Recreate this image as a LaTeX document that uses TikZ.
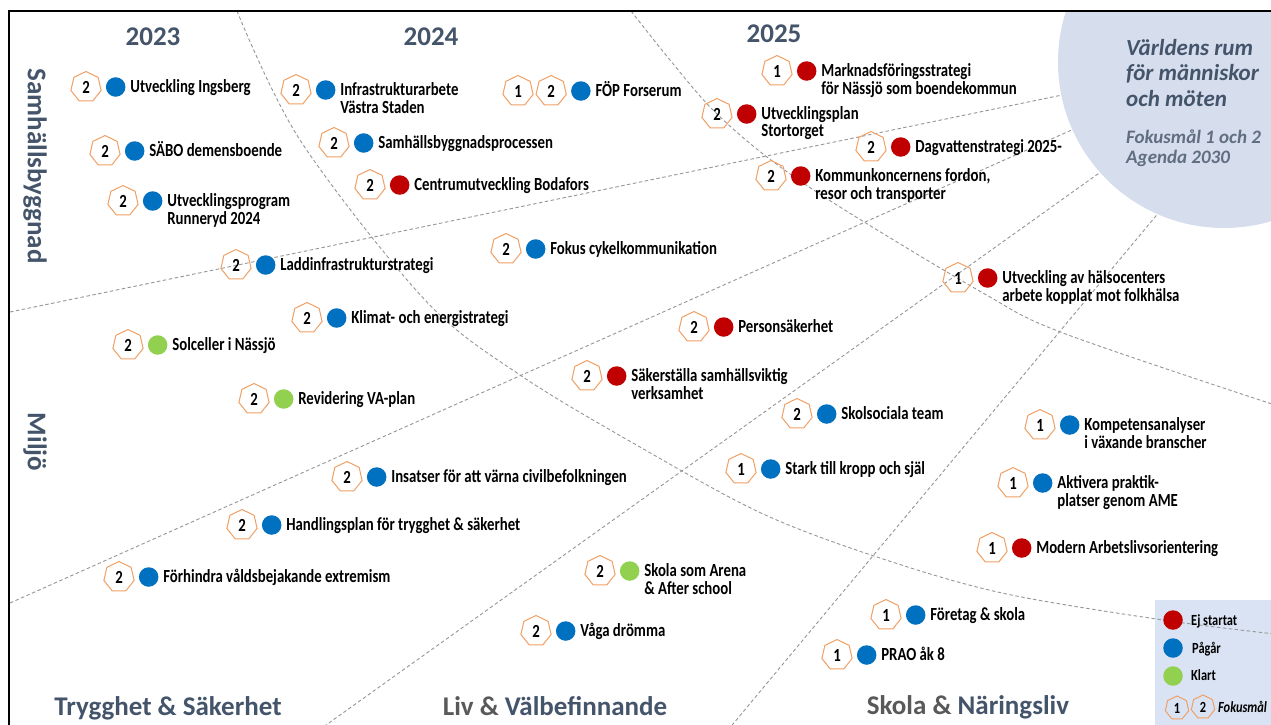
\documentclass[tikz,border=0pt]{standalone}
\usepackage{fontspec}
\setmainfont{Carlito}
\newfontfamily\smalfont{Carlito}[FakeStretch=0.8]
\usetikzlibrary{positioning,shapes.geometric}

\definecolor{ejstart}{RGB}{192,0,0}
\definecolor{pagar}{RGB}{0,112,192}
\definecolor{klart}{RGB}{146,208,80}
\definecolor{hexline}{RGB}{240,160,100}
\definecolor{slate}{RGB}{68,84,106}
\definecolor{mgray}{RGB}{89,89,89}
\definecolor{rumblue}{RGB}{214,222,238}
\definecolor{legblue}{RGB}{218,227,243}
\definecolor{dashgray}{RGB}{150,150,150}

\begin{document}
\begin{tikzpicture}[x=1pt,y=-1pt,
    hept/.style={draw=hexline, line width=1pt, regular polygon, regular polygon sides=7,
      minimum size=31pt, inner sep=0pt, font=\smalfont\bfseries\fontsize{18.5}{16}\selectfont},
    dot/.style={circle, minimum size=19.5pt, inner sep=0pt},
    lbl/.style={inner sep=0pt, font=\smalfont\bfseries\fontsize{18.5}{16}\selectfont},
    sektor/.style={dashgray, line width=0.9pt, dash pattern=on 3.5pt off 2.5pt},
    rubrik/.style={inner sep=0pt, text=slate, font=\bfseries\fontsize{27}{30}\selectfont},
    legtext/.style={inner sep=0pt, font=\smalfont\bfseries\fontsize{15.5}{16}\selectfont}]
		\path[use as bounding box, fill=white] (0,0) rectangle (1271,724);
		% sectors and the centre circle
		\begin{scope}
			\clip (9,11) rectangle (1271,724);
			\fill[legblue] (1155,600) rectangle (1280,730);
			\draw[sektor] (10,312)--(1130,81);
			\draw[sektor] (10,603)--(1130,104);
			\draw[sektor] (319,730)--(1130,151);
			\draw[sektor] (728,730)--(1200,163);
			\fill[rumblue] (1224,62) circle (166);
		\end{scope}
		\draw[sektor] plot[smooth, tension=0.55] coordinates {(237,11) (300,140) (425,300) (520,375) (640,447) (761,513) (877,557) (1002,593) (1163,620) (1275,634)};
		\draw[sektor] plot[smooth, tension=0.55] coordinates {(631,11) (670,60) (713,110) (767,157) (840,207) (983,293) (1063,333) (1275,405)};
		% goals
		\foreach \x/\y/\nr/\fg/\txt [count=\i] in {
			86/87/2/pagar/{Utveckling Ingsberg},
			105/151/2/pagar/{SÄBO demensboende},
			123/201/2/pagar/{Utvecklingsprogram\\Runneryd 2024},
			236/265/2/pagar/{Laddinfrastrukturstrategi},
			296/90/2/pagar/{Infrastrukturarbete\\Västra Staden},
			334/143/2/pagar/{Samhällsbyggnadsprocessen},
			370/185/2/ejstart/{Centrumutveckling Bodafors},
			506/249/2/pagar/{Fokus cykelkommunikation},
			777/71/1/ejstart/{Marknadsföringsstrategi\\för Nässjö som boendekommun},
			717/114/2/ejstart/{Utvecklingsplan\\Stortorget},
			871/147/2/ejstart/{Dagvattenstrategi 2025-},
			771/176/2/ejstart/{Kommunkoncernens fordon,\\resor och transporter},
			958/278/1/ejstart/{Utveckling av hälsocenters\\arbete kopplat mot folkhälsa},
			307/318/2/pagar/{Klimat- och energistrategi},
			128/345/2/klart/{Solceller i Nässjö},
			254/399/2/klart/{Revidering VA-plan},
			347/477/2/pagar/{Insatser för att värna civilbefolkningen},
			242/525/2/pagar/{Handlingsplan för trygghet \& säkerhet},
			119/577/2/pagar/{Förhindra våldsbejakande extremism},
			694/327/2/ejstart/{Personsäkerhet},
			587/376/2/ejstart/{Säkerställa samhällsviktig\\verksamhet},
			797/414/2/pagar/{Skolsociala team},
			741/469/1/pagar/{Stark till kropp och själ},
			600/571/2/klart/{Skola som Arena\\\& After school},
			536/631/2/pagar/{Våga drömma},
			1040/425/1/pagar/{Kompetensanalyser\\i växande branscher},
			1013/483/1/pagar/{Aktivera praktik-\\platser genom AME},
			992/548/1/ejstart/{Modern Arbetslivsorientering},
			886/615/1/pagar/{Företag \& skola},
			837/655/1/pagar/{PRAO åk 8}}
		{
			\node[hept] (h\i) at (\x,\y) {\nr};
			\node[dot, fill=\fg, right=4.9pt of h\i] (d\i) {};
			\node[lbl, anchor=base west] (t\i) at ([xshift=4.5pt,yshift=-5.5pt]d\i.east)
				{\begin{tabular}[t]{@{}l@{}}\txt\end{tabular}};
		}
		\node[hept] (fop1) at (518,91) {1};
		\node[hept, right=3.5pt of fop1] (fop2) {2};
		\node[dot, fill=pagar, right=4.9pt of fop2] (fopd) {};
		\node[lbl, anchor=base west] (fopt) at ([xshift=4.5pt,yshift=-5.5pt]fopd.east) {FÖP Forserum};
		% headings
		\node[rubrik, anchor=base] (ar23) at (153,45) {2023};
		\node[rubrik, anchor=base] (ar24) at (431,45) {2024};
		\node[rubrik, anchor=base] (ar25) at (774,42) {2025};
		\node[rubrik, rotate=-90] (samh) at (35,166) {Samhällsbyggnad};
		\node[rubrik, rotate=-90] (miljo) at (35,442) {Miljö};
		\node[rubrik, anchor=base] (tryg) at (168,715) {Trygghet \& Säkerhet};
		\node[rubrik, anchor=base] (liv) at (555,715) {\textcolor{mgray}{Liv \&} Välbefinnande};
		\node[rubrik, anchor=base] (skola) at (968,714) {\textcolor{mgray}{Skola \&} Näringsliv};
		% centre circle text
		\node[anchor=base west, inner sep=0pt, text=slate, font=\bfseries\itshape\fontsize{23}{25.5}\selectfont] (rum) at (1126,55)
			{\begin{tabular}[t]{@{}l@{}}Världens rum\\för människor\\och möten\end{tabular}};
		\node[anchor=base west, inner sep=0pt, text=slate!85!white, font=\bfseries\itshape\fontsize{19}{20}\selectfont] (agenda) at (1126,143)
			{\begin{tabular}[t]{@{}l@{}}Fokusmål 1 och 2\\Agenda 2030\end{tabular}};
		% legend
		\node[dot, fill=ejstart] (lr) at (1173,620) {};
		\node[dot, fill=pagar] (lb) at (1173,648) {};
		\node[dot, fill=klart] (lg) at (1173,676) {};
		\node[legtext, anchor=base west] (lrt) at (1191,625) {Ej startat};
		\node[legtext, anchor=base west] (lbt) at (1192,653) {Pågår};
		\node[legtext, anchor=base west] (lgt) at (1191,680) {Klart};
		\node[hept, minimum size=24pt, font=\smalfont\bfseries\fontsize{15.5}{16}\selectfont] (lh1) at (1177,708) {1};
		\node[hept, minimum size=24pt, font=\smalfont\bfseries\fontsize{15.5}{16}\selectfont] (lh2) at (1203,707) {2};
		\node[legtext, anchor=base west, font=\smalfont\bfseries\itshape\fontsize{15.5}{16}\selectfont] (lht) at (1218,712) {Fokusmål};
		% frame
		\draw[line width=2pt] (9,735)--(9,11)--(1280,11);
	\end{tikzpicture}
\end{document}
